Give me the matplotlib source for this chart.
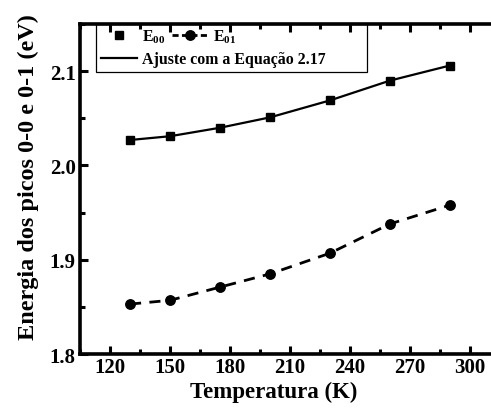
import matplotlib.pyplot as plt
from matplotlib.lines import Line2D
from matplotlib.patches import Rectangle
from matplotlib.ticker import MultipleLocator

plt.rcParams['font.family'] = ['Liberation Serif', 'DejaVu Serif']
plt.rcParams['font.weight'] = 'bold'
plt.rcParams['mathtext.fontset'] = 'custom'
plt.rcParams['mathtext.rm'] = 'Liberation Serif:bold'
plt.rcParams['mathtext.default'] = 'rm'

temperature = [130, 150, 175, 200, 230, 260, 290]
e00 = [2.027, 2.031, 2.040, 2.051, 2.069, 2.090, 2.106]
e01 = [1.853, 1.857, 1.871, 1.885, 1.907, 1.938, 1.958]

fig = plt.figure(figsize=(4.91, 4.10), dpi=100)
ax = fig.add_axes([0.163, 0.134, 0.837, 0.805])

ax.plot(temperature, e00, color="black", lw=1.6, marker="s", ms=5.8, zorder=3)
ax.plot(temperature, e01, color="black", lw=2.0, ls=(0, (4, 3)), marker="o", ms=6.8, zorder=3)

ax.set_xlim(105, 310.5)
ax.set_ylim(1.8, 2.15)
ax.xaxis.set_major_locator(MultipleLocator(30))
ax.xaxis.set_minor_locator(MultipleLocator(15))
ax.yaxis.set_major_locator(MultipleLocator(0.1))
ax.yaxis.set_minor_locator(MultipleLocator(0.05))
ax.tick_params(which="both", direction="in", top=True, right=False, width=2.2, labelsize=15)
ax.tick_params(axis="x", pad=2)
ax.tick_params(axis="y", pad=3)
ax.tick_params(which="major", length=6)
ax.tick_params(which="minor", length=3.5)
ax.spines["right"].set_visible(False)
for s in ["left", "bottom", "top"]:
    ax.spines[s].set_linewidth(2.6)

ax.set_xlabel("Temperatura (K)", fontsize=16.5, fontweight="bold")
ax.set_ylabel("Energia dos picos 0-0 e 0-1 (eV)", fontsize=17.5, fontweight="bold")
ax.xaxis.set_label_coords(0.472, -0.08)
ax.yaxis.set_label_coords(-0.1, 0.54)

# legend: frame + two rows
ax.add_patch(Rectangle((0.039, 0.855), 0.659, 0.145, transform=ax.transAxes,
                       fill=False, ec="black", lw=0.9, zorder=4, clip_on=False))
h1 = [Line2D([], [], color="black", ls="none", marker="s", ms=5.8),
      Line2D([], [], color="black", lw=2.0, ls=(0, (2.2, 1.2)), marker="o", ms=6.8)]
leg1 = ax.legend(h1, ["E$_{00}$", "E$_{01}$"], ncol=2, loc="upper left",
                 bbox_to_anchor=(0.051, 0.99), frameon=False, borderpad=0, borderaxespad=0,
                 handlelength=2.3, handletextpad=0.3, columnspacing=0.4,
                 prop={"size": 11.4, "weight": "bold"})
ax.add_artist(leg1)
h2 = [Line2D([], [], color="black", lw=1.6)]
ax.legend(h2, ["Ajuste com a Equação 2.17"], loc="upper left",
          bbox_to_anchor=(0.051, 0.918), frameon=False, borderpad=0, borderaxespad=0,
          handlelength=2.3, handletextpad=0.3, prop={"size": 11.4, "weight": "bold"})

fig.savefig("out.png", dpi=100)
